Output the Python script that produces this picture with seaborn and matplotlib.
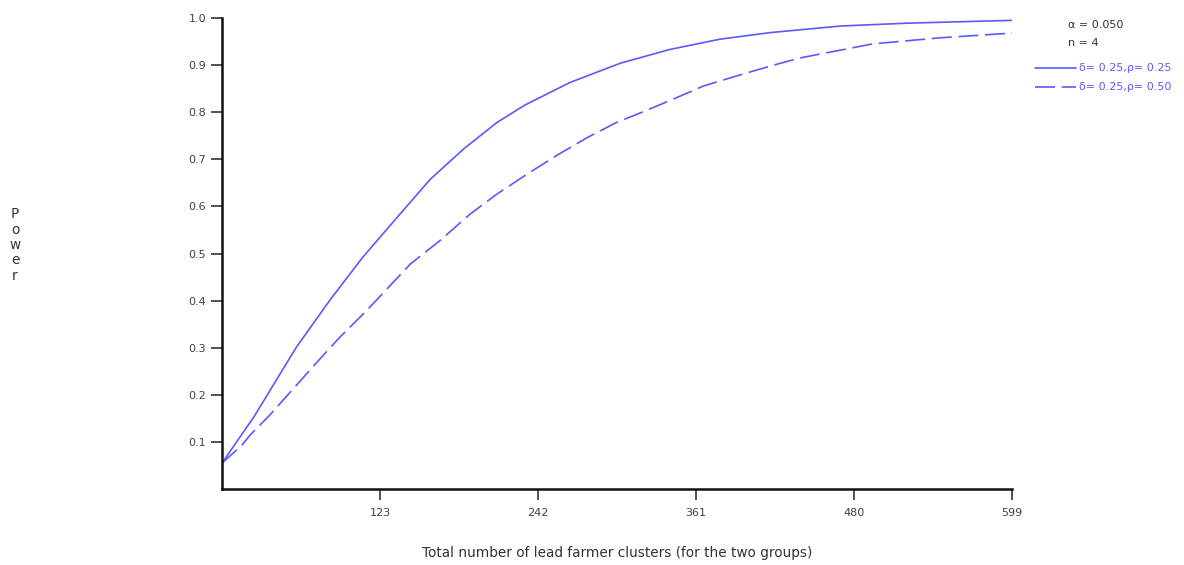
import matplotlib
matplotlib.use("Agg")
import matplotlib.pyplot as plt
import seaborn as sns
import pandas as pd

# Data
solid_x = [4, 28, 60, 85, 110, 136, 161, 186, 211, 232, 266, 304, 341, 379, 417, 470, 520, 599]
solid_y = [0.055, 0.153, 0.301, 0.400, 0.492, 0.577, 0.658, 0.722, 0.778, 0.815, 0.863, 0.904, 0.933, 0.955, 0.969, 0.983, 0.989, 0.995]
dashed_x = [4, 19, 25, 40, 59, 78, 93, 113, 146, 168, 191, 211, 234, 256, 279, 301, 323, 344, 367, 394, 417, 439, 494, 545, 599]
dashed_y = [0.055, 0.093, 0.114, 0.157, 0.217, 0.277, 0.323, 0.379, 0.478, 0.527, 0.584, 0.626, 0.669, 0.708, 0.746,
            0.778, 0.803, 0.828, 0.856, 0.879, 0.898, 0.915, 0.945, 0.958, 0.968]
series_labels = ["δ= 0.25,ρ= 0.25", "δ= 0.25,ρ= 0.50"]
x_ticks = [123, 242, 361, 480, 599]
y_ticks = [0.1, 0.2, 0.3, 0.4, 0.5, 0.6, 0.7, 0.8, 0.9, 1.0]

sns.set_theme(style="white")
plt.rcParams['font.family'] = ['DejaVu Sans']

df = pd.concat([
    pd.DataFrame({"x": solid_x, "y": solid_y, "series": series_labels[0]}),
    pd.DataFrame({"x": dashed_x, "y": dashed_y, "series": series_labels[1]}),
])

blue = "#5a5aff"
fig = plt.figure(figsize=(11.84, 5.65), dpi=100)
ax = fig.add_axes([222/1184, 1-489/565, (1012-222)/1184, (489-18)/565])
sns.lineplot(data=df, x="x", y="y", style="series", hue="series",
             palette=[blue, blue], dashes={series_labels[0]: "", series_labels[1]: (12, 4)},
             linewidth=1.2, legend=False, ax=ax, sort=False)

ax.set_xlim(4, 599)
ax.set_ylim(0, 1.0)
ax.set_xticks(x_ticks)
ax.set_xticklabels([str(v) for v in x_ticks])
ax.set_yticks(y_ticks)
ax.set_yticklabels([f"{v:.1f}" for v in y_ticks])
for s in ["top", "right"]:
    ax.spines[s].set_visible(False)
for s in ["left", "bottom"]:
    ax.spines[s].set_linewidth(1.8)
    ax.spines[s].set_color("#111111")
ax.tick_params(axis="both", direction="out", length=8, width=1.2, color="#333333",
               labelsize=8, labelcolor="#404050", bottom=True, left=True)
ax.tick_params(axis="x", pad=6)
ax.set_xlabel("")
ax.set_ylabel("")

fig.text(617/1184, 1-553/565, "Total number of lead farmer clusters (for the two groups)",
         ha="center", va="center", fontsize=9.8, color="#333333")
for i, ch in enumerate("Power"):
    fig.text(15/1184, 1-(214+15.5*i)/565, ch, ha="center", va="center", fontsize=9.8, color="#333333")

# legend-like annotation
fig.text(1068/1184, 1-25/565, "α = 0.050", ha="left", va="center", fontsize=8, color="#333333")
fig.text(1068/1184, 1-43/565, "n = 4", ha="left", va="center", fontsize=8, color="#333333")
fig.add_artist(plt.Line2D([1035/1184, 1076/1184], [1-68/565, 1-68/565], color=blue, lw=1.2))
fig.add_artist(plt.Line2D([1035/1184, 1076/1184], [1-87/565, 1-87/565], color=blue, lw=1.2, dashes=(12, 4)))
fig.text(1079/1184, 1-68/565, series_labels[0], ha="left", va="center", fontsize=8, color=blue)
fig.text(1079/1184, 1-87/565, series_labels[1], ha="left", va="center", fontsize=8, color=blue)

fig.savefig("out.png", dpi=100)
